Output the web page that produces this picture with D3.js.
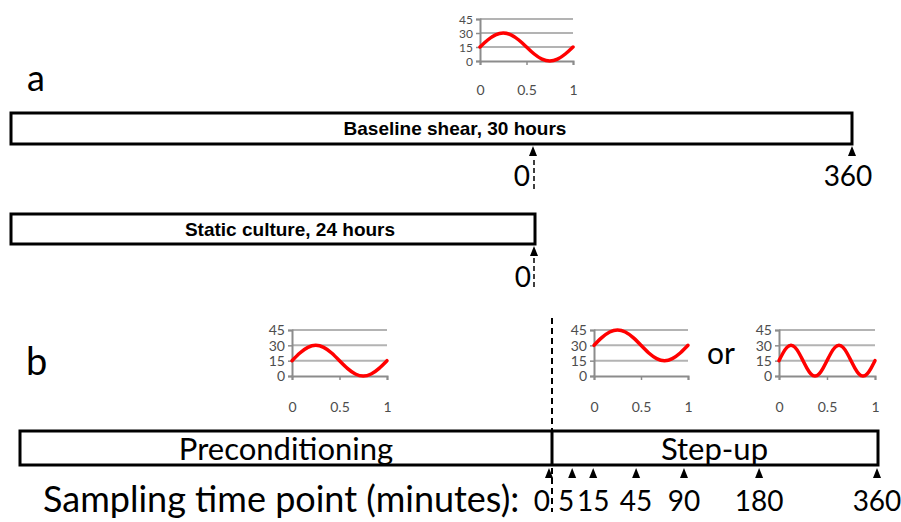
<!DOCTYPE html>
<html>
<head>
<meta charset="utf-8">
<script src="https://cdn.jsdelivr.net/npm/d3@7"></script>
<style>
  body { margin: 0; background: #fff; }
  svg { display: block; }
</style>
</head>
<body>
<svg id="fig" width="901" height="522"></svg>
<script>
// One normalised waveform cycle, sampled every 30 degrees of phase
const cyclePhase = [0, 0.083, 0.167, 0.25, 0.333, 0.417, 0.5, 0.583, 0.667, 0.75, 0.833, 0.917, 1];
// Baseline shear waveform: 15 ± 15 dyn/cm²
const baselineShear = [15, 22.5, 28, 30, 28, 22.5, 15, 7.5, 2, 0, 2, 7.5, 15];
// Step-up option 1: mean raised to 30 dyn/cm²
const stepUpShear = [30, 37.5, 43, 45, 43, 37.5, 30, 22.5, 17, 15, 17, 22.5, 30];
// Step-up option 2: doubled frequency, same amplitude
const fastPhase = [0, 0.042, 0.083, 0.125, 0.167, 0.208, 0.25, 0.292, 0.333, 0.375, 0.417, 0.458,
                   0.5, 0.542, 0.583, 0.625, 0.667, 0.708, 0.75, 0.792, 0.833, 0.875, 0.917, 0.958, 1];
const doubledShear = [15, 22.5, 28, 30, 28, 22.5, 15, 7.5, 2, 0, 2, 7.5, 15,
                      22.5, 28, 30, 28, 22.5, 15, 7.5, 2, 0, 2, 7.5, 15];
const shearTicks = [0, 15, 30, 45];
const phaseTicks = [0, 0.5, 1];

// Timeline marks (minutes)
const panelATicks = [0, 360];
const sampleMinutes = [0, 5, 15, 45, 90, 180, 360];

// Bar captions
const baselineCaption = "Baseline shear, 30 hours";
const staticCaption = "Static culture, 24 hours";
const preCaption = "Preconditioning";
const stepCaption = "Step-up";
const samplingCaption = "Sampling time point (minutes):";

const svg = d3.select("#fig");
const SANS = "Lato, 'Open Sans', sans-serif";
const BOLD = "'Liberation Sans', Arial, sans-serif";

// ---------- small waveform chart ----------
function waveChart(left, top, w, h, phase, values, fontSize) {
  const g = svg.append("g");
  const x = d3.scaleLinear().domain([0, 1]).range([left, left + w]);
  const y = d3.scaleLinear().domain([0, 45]).range([top + h, top]);

  // horizontal gridlines
  g.selectAll("line.grid").data(shearTicks.filter(t => t > 0)).join("line")
    .attr("x1", x(0)).attr("x2", x(1))
    .attr("y1", d => y(d)).attr("y2", d => y(d))
    .attr("stroke", "#b3b3b3").attr("stroke-width", 2);

  // y axis
  const ya = d3.axisLeft(y).tickValues(shearTicks).tickSize(4).tickPadding(3);
  const yg = g.append("g").attr("transform", `translate(${x(0)},0)`).call(ya);
  yg.select(".domain").attr("stroke", "#8c8c8c").attr("stroke-width", 2);
  yg.selectAll(".tick line").attr("stroke", "#8c8c8c").attr("stroke-width", 1.5);
  yg.selectAll("text").attr("font-family", SANS).attr("font-size", fontSize)
    .attr("fill", "#4d4d4d").attr("dy", "0.34em");

  // x axis
  const xa = d3.axisBottom(x).tickValues(phaseTicks)
    .tickFormat(d3.format("~g")).tickSize(4).tickPadding(h > 44 ? 22 : 20);
  const xg = g.append("g").attr("transform", `translate(0,${y(0)})`).call(xa);
  xg.select(".domain").attr("stroke", "#8c8c8c").attr("stroke-width", 2);
  xg.selectAll(".tick line").attr("stroke", "#8c8c8c").attr("stroke-width", 1.5);
  xg.selectAll("text").attr("font-family", SANS).attr("font-size", 14).attr("fill", "#4d4d4d");

  // waveform
  const line = d3.line().x((d, i) => x(phase[i])).y(d => y(d)).curve(d3.curveNatural);
  g.append("path").datum(values).attr("d", line)
    .attr("fill", "none").attr("stroke", "#ff0000").attr("stroke-width", 3.5)
    .attr("stroke-linecap", "round");
}

// up-pointing arrowhead
const arrow = "M0,-6 L4,4 L-4,4 Z";

// ---------- panel a ----------
svg.append("text").attr("x", 27).attr("y", 91).text("a")
  .attr("font-family", SANS).attr("font-size", 36).attr("fill", "#000");

waveChart(480, 19, 93, 42, cyclePhase, baselineShear, 12);

const xa = d3.scaleLinear().domain([0, 360]).range([533, 852]);

svg.append("rect").attr("x", 11).attr("y", 113).attr("width", xa(360) - 11).attr("height", 31)
  .attr("fill", "#fff").attr("stroke", "#000").attr("stroke-width", 3);
svg.append("text").attr("x", 455).attr("y", 135).attr("text-anchor", "middle")
  .attr("font-family", BOLD).attr("font-weight", "bold").attr("font-size", 19).text(baselineCaption);

svg.append("rect").attr("x", 11).attr("y", 214).attr("width", xa(0) + 2 - 11).attr("height", 30)
  .attr("fill", "#fff").attr("stroke", "#000").attr("stroke-width", 3);
svg.append("text").attr("x", 290).attr("y", 236).attr("text-anchor", "middle")
  .attr("font-family", BOLD).attr("font-weight", "bold").attr("font-size", 19).text(staticCaption);

// ticks under the baseline bar
svg.selectAll("path.tickA").data(panelATicks).join("path")
  .attr("transform", d => `translate(${xa(d)},${152})`).attr("d", arrow).attr("fill", "#000");
svg.selectAll("text.tickA").data(panelATicks).join("text")
  .attr("x", d => d === 0 ? xa(d) - 3 : xa(d) - 4).attr("y", 186)
  .attr("text-anchor", d => d === 0 ? "end" : "middle")
  .attr("font-family", SANS).attr("font-size", 28).attr("fill", "#000").text(d => d);

// tick under the static culture bar
svg.append("path").attr("transform", `translate(${xa(0) + 1},${252})`).attr("d", arrow).attr("fill", "#000");
svg.append("text").attr("x", xa(0) - 2).attr("y", 287).attr("text-anchor", "end")
  .attr("font-family", SANS).attr("font-size", 28).attr("fill", "#000").text(0);

// dashed alignment marks at t = 0
[[160, 190], [258, 290]].forEach(([y1, y2]) => {
  svg.append("line").attr("x1", xa(0) + 1).attr("x2", xa(0) + 1).attr("y1", y1).attr("y2", y2)
    .attr("stroke", "#000").attr("stroke-width", 1.5).attr("stroke-dasharray", "5,3");
});

// ---------- panel b ----------
svg.append("text").attr("x", 26).attr("y", 375).text("b")
  .attr("font-family", SANS).attr("font-size", 38).attr("fill", "#000");

waveChart(292, 330, 95, 46, cyclePhase, baselineShear, 14);
waveChart(594, 330, 94, 46, cyclePhase, stepUpShear, 14);
waveChart(779, 330, 96, 46, fastPhase, doubledShear, 14);

svg.append("text").attr("x", 707).attr("y", 364).text("or")
  .attr("font-family", SANS).attr("font-size", 30).attr("fill", "#000");

// compressed time axis for the step-up phase
const xb = d3.scalePow().exponent(0.65).domain([0, 360]).range([552, 877]);

// dashed line marking the start of the step-up
svg.append("line").attr("x1", xb(0)).attr("x2", xb(0)).attr("y1", 318).attr("y2", 512)
  .attr("stroke", "#000").attr("stroke-width", 2).attr("stroke-dasharray", "6,4");

svg.append("rect").attr("x", 20).attr("y", 431).attr("width", xb(360) + 1 - 20).attr("height", 34)
  .attr("fill", "none").attr("stroke", "#000").attr("stroke-width", 3);
svg.append("line").attr("x1", xb(0)).attr("x2", xb(0)).attr("y1", 431).attr("y2", 465)
  .attr("stroke", "#000").attr("stroke-width", 3);

svg.append("text").attr("x", (20 + xb(0)) / 2).attr("y", 460).attr("text-anchor", "middle")
  .attr("font-family", SANS).attr("font-size", 31).attr("fill", "#000").text(preCaption);
svg.append("text").attr("x", (xb(0) + xb(360)) / 2).attr("y", 460).attr("text-anchor", "middle")
  .attr("font-family", SANS).attr("font-size", 31).attr("fill", "#000").text(stepCaption);

// sampling arrows and labels
svg.selectAll("path.tickB").data(sampleMinutes).join("path")
  .attr("transform", d => `translate(${d === 0 ? xb(d) - 3 : xb(d)},${474})`)
  .attr("d", arrow).attr("fill", "#000");
svg.selectAll("text.tickB").data(sampleMinutes).join("text")
  .attr("x", d => d === 0 ? xb(d) - 2 : d === 5 ? xb(d) + 2 : xb(d))
  .attr("y", 511)
  .attr("text-anchor", d => d <= 5 ? "end" : "middle")
  .attr("font-family", SANS).attr("font-size", 28).attr("fill", "#000").text(d => d);
svg.append("text").attr("x", 43).attr("y", 512)
  .attr("font-family", SANS).attr("font-size", 36).attr("fill", "#000").text(samplingCaption);
</script>
</body>
</html>
